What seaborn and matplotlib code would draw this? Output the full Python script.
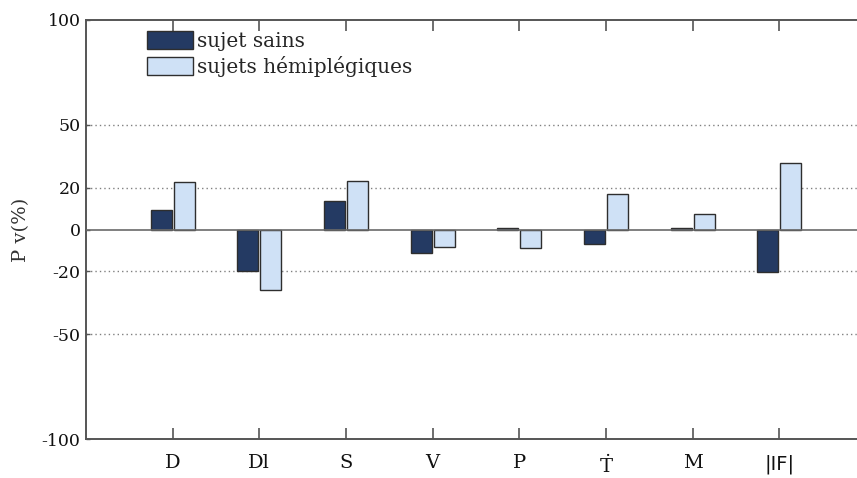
import matplotlib
matplotlib.use("Agg")
import matplotlib.pyplot as plt
import seaborn as sns
import pandas as pd

# Relative variation (%) of each gait parameter for the two groups
categories = ["D", "Dl", "S", "V", "P", "T", "M", "|IF|"]
tick_labels = ["D", "Dl", "S", "V", "P", r"$\dot{\mathrm{T}}$", "M", "|IF|"]
sains = [9.5, -20.0, 13.7, -11.0, 0.6, -7.0, 0.6, -20.3]
hemiplegiques = [22.7, -28.7, 23.3, -8.4, -8.7, 17.0, 7.2, 31.7]
group_names = ["sujet sains", "sujets hémiplégiques"]
y_ticks = [-100, -50, -20, 0, 20, 50, 100]

df = pd.DataFrame({
    "param": categories * 2,
    "valeur": sains + hemiplegiques,
    "groupe": [group_names[0]] * len(categories) + [group_names[1]] * len(categories),
})

sns.set_theme(style="white")
plt.rcParams["font.family"] = ["DejaVu Serif", "DejaVu Sans"]
plt.rcParams["mathtext.fontset"] = "dejavuserif"

fig = plt.figure(figsize=(8.57, 4.78), dpi=100)
ax = fig.add_axes([86 / 857, 39 / 478, 780 / 857, 419 / 478])

palette = {group_names[0]: "#243a63", group_names[1]: "#cfe1f6"}
sns.barplot(data=df, x="param", y="valeur", hue="groupe", order=categories,
            hue_order=group_names, palette=palette, width=0.53, gap=0.09,
            edgecolor="#2e2e2e", linewidth=1.0, saturation=1, errorbar=None, ax=ax)

ax.set_xlim(-1, 8)
ax.set_ylim(-100, 100)

# dotted reference levels and solid zero line
for lvl in (-50, -20, 20, 50):
    ax.axhline(lvl, color="#808080", lw=1.0, ls=(0, (1, 2.2)), zorder=0)
ax.axhline(0, color="#6a6a6a", lw=1.2, zorder=3)

ax.set_yticks(y_ticks)
ax.set_yticklabels([str(v) for v in y_ticks], fontsize=12.5)
ax.set_xticks(range(len(categories)))
ax.set_xticklabels(tick_labels, fontsize=14)
ax.get_xticklabels()[-1].set_family("DejaVu Sans")

ax.set_xlabel("")
ax.set_ylabel("P v(%)", fontsize=14, color="#333333", labelpad=8)

for side in ("left", "top", "bottom"):
    ax.spines[side].set_color("#555555")
    ax.spines[side].set_linewidth(1.4)
ax.spines["right"].set_visible(False)

ax.tick_params(axis="x", which="both", direction="in", length=8, width=1.2,
               color="#555555", top=True, bottom=True, pad=11, labelcolor="#111111")
ax.tick_params(axis="y", direction="in", length=3, width=1.0, color="#555555",
               left=True, pad=4, labelcolor="#111111")

handles, labels = ax.get_legend_handles_labels()
ax.legend(handles, labels, loc="upper left", bbox_to_anchor=((147 - 86) / 780, (439 - 31) / 419),
          frameon=False, fontsize=14.5, handlelength=2.3, handleheight=1.0,
          handletextpad=0.2, labelspacing=0.25, borderpad=0, borderaxespad=0)

fig.savefig("out.png", dpi=100)
